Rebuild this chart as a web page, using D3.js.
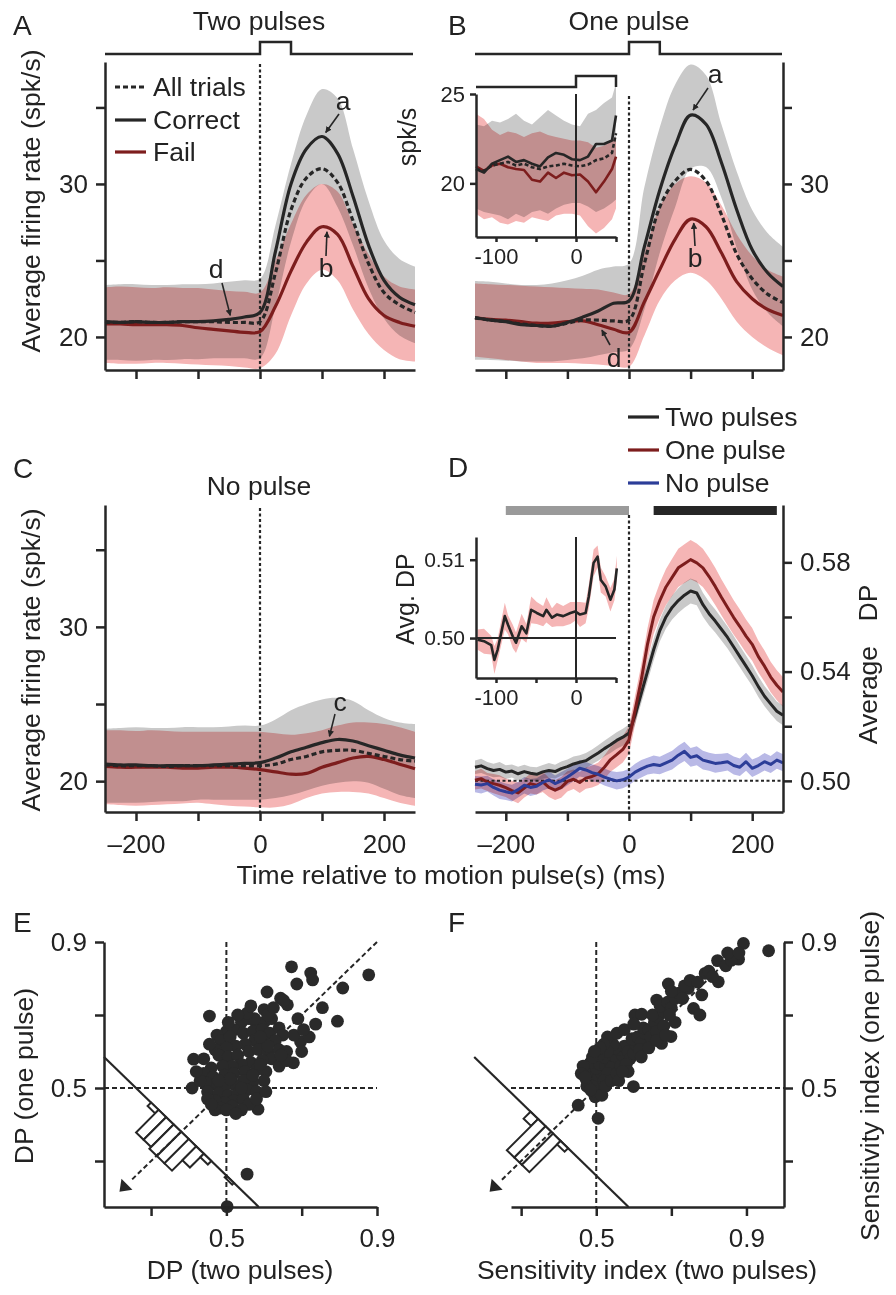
<!DOCTYPE html>
<html>
<head>
<meta charset="utf-8">
<script src="https://cdn.jsdelivr.net/npm/d3@7"></script>
<style>
body { margin: 0; background: #fff; }
text { font-family: "Liberation Sans", Arial, sans-serif; fill: #222; }
</style>
</head>
<body>
<svg id="svg" width="896" height="1295"></svg>
<script>
'use strict';

// ---- time course data (ms, spk/s) ----
var times = [-250,-225,-200,-175,-150,-125,-100,-75,-50,-25,0,25,50,75,100,125,150,175,200,225,250];

var twoCorrect = [21.0,20.95,21.0,20.95,20.95,21.0,21.0,21.05,21.15,21.3,21.6,25.6,30.0,32.3,33.1,32.0,29.2,26.0,23.7,22.6,22.1];
var twoAll     = [20.95,20.95,21.0,20.95,20.95,21.0,21.0,21.0,20.95,20.95,21.0,24.2,28.3,30.4,31.0,30.1,27.6,24.8,22.9,22.1,21.6];
var twoFail    = [20.85,20.85,20.8,20.8,20.8,20.75,20.6,20.5,20.4,20.3,20.35,22.0,24.3,26.2,27.2,26.7,24.6,22.5,21.4,20.95,20.7];
var twoGrayHi  = [23.4,23.45,23.45,23.4,23.4,23.45,23.45,23.5,23.6,23.7,23.8,27.3,31.3,34.5,36.2,35.6,32.3,28.9,26.3,25.1,24.6];
var twoGrayLo  = [18.5,18.5,18.45,18.5,18.5,18.55,18.55,18.6,18.6,18.6,18.6,22.0,26.2,29.0,30.0,28.5,26.0,23.2,21.2,20.1,19.6];
var twoPinkHi  = [23.25,23.3,23.25,23.2,23.25,23.2,23.2,23.1,23.0,22.95,22.9,25.0,27.4,29.3,30.0,29.5,27.4,25.4,23.95,23.3,23.1];
var twoPinkLo  = [18.3,18.25,18.25,18.3,18.3,18.25,18.2,18.15,18.1,18.0,17.95,18.9,21.4,23.5,24.4,23.7,21.8,20.2,19.15,18.55,18.4];

var oneCorrect = [21.27,21.1,21.0,20.8,20.75,20.7,20.95,21.3,21.7,22.2,22.35,25.9,29.6,32.5,34.5,33.9,31.4,28.3,25.7,24.2,23.3];
var oneAll     = [21.25,21.1,21.0,20.85,20.75,20.7,20.9,21.1,21.1,21.05,21.1,24.8,28.5,30.2,30.95,30.2,28.0,25.4,23.8,22.8,22.25];
var oneFail    = [21.25,21.15,21.1,21.0,20.9,20.9,21.0,21.05,20.8,20.5,20.3,22.3,24.4,26.4,27.7,27.2,25.5,23.6,22.5,21.8,21.4];
var oneGrayHi  = [23.65,23.6,23.5,23.4,23.4,23.5,23.7,24.0,24.4,24.6,24.8,29.8,33.7,36.5,37.8,37.1,33.9,30.8,28.3,26.8,25.9];
var oneGrayLo  = [18.5,18.5,18.45,18.4,18.4,18.4,18.5,18.6,18.8,19.0,19.2,21.8,25.5,28.5,31.0,31.1,29.1,25.8,23.1,21.6,20.7];
var onePinkHi  = [23.5,23.45,23.4,23.35,23.3,23.25,23.2,23.15,23.1,22.9,22.8,25.5,28.5,30.0,30.5,30.1,28.6,26.7,25.3,24.4,23.95];
var onePinkLo  = [18.7,18.6,18.5,18.4,18.3,18.3,18.3,18.25,18.2,18.1,18.05,20.1,22.4,23.7,24.2,23.7,22.5,21.0,20.0,19.3,18.8];

var noCorrect = [21.1,21.05,21.05,21.0,21.0,21.0,21.0,21.05,21.1,21.15,21.2,21.5,21.9,22.2,22.5,22.7,22.6,22.3,22.0,21.7,21.5];
var noAll     = [21.05,21.0,21.0,21.0,20.95,21.0,21.0,21.0,21.0,21.0,21.0,21.1,21.4,21.6,21.9,22.0,22.0,21.8,21.6,21.4,21.3];
var noFail    = [20.95,20.9,20.9,20.9,20.9,20.85,20.85,20.9,20.9,20.85,20.75,20.6,20.45,20.5,20.9,21.2,21.5,21.6,21.4,21.1,20.8];
var noGrayHi  = [23.4,23.45,23.5,23.45,23.45,23.5,23.5,23.5,23.55,23.6,23.6,24.0,24.6,25.0,25.3,25.4,25.2,24.6,24.1,23.8,23.7];
var noGrayLo  = [18.6,18.6,18.6,18.65,18.7,18.7,18.8,18.8,18.8,18.8,18.8,18.9,19.1,19.4,19.7,19.9,20.0,19.9,19.5,19.1,18.9];
var noPinkHi  = [23.3,23.3,23.25,23.3,23.25,23.2,23.2,23.2,23.2,23.2,23.2,23.1,23.0,23.1,23.3,23.6,23.8,23.8,23.7,23.5,23.2];
var noPinkLo  = [18.5,18.45,18.4,18.45,18.5,18.55,18.6,18.5,18.4,18.35,18.3,18.3,18.5,18.9,19.2,19.3,19.3,19.2,18.9,18.6,18.4];

// inset of B
var insetT       = [-125,-115,-105,-95,-85,-75,-65,-55,-45,-35,-25,-15,-5,5,15,25,35,45,50];
var insetCorrect = [20.8,20.6,21.1,21.3,21.5,21.2,21.3,21.1,20.95,21.45,21.7,21.6,21.35,21.3,21.5,22.2,22.2,22.4,23.8];
var insetAll     = [20.8,20.7,21.0,21.1,21.2,21.0,21.1,20.9,20.8,20.95,21.0,21.1,21.0,20.95,21.05,21.3,21.4,21.7,22.8];
var insetFail    = [20.95,20.7,21.0,21.1,20.9,20.8,20.75,20.2,20.1,20.6,20.3,20.6,20.45,20.5,20.1,19.5,20.1,20.8,21.5];
var insetGrayHi  = [23.3,23.2,23.5,23.4,23.6,23.9,23.5,23.3,23.7,24.1,23.8,23.5,23.3,23.2,23.9,24.1,24.5,24.8,25.6];
var insetGrayLo  = [18.6,18.4,18.3,18.2,18.0,18.3,18.1,18.4,18.5,18.3,18.6,18.8,18.9,18.9,18.7,18.4,18.6,18.9,19.1];
var insetPinkHi  = [23.9,23.6,23.0,22.7,22.9,22.8,22.6,22.8,22.9,22.7,22.6,22.5,22.4,22.4,22.3,22.0,22.1,22.4,22.6];
var insetPinkLo  = [18.3,18.0,18.1,17.8,17.7,17.9,17.8,18.1,18.0,17.9,18.2,18.3,18.3,18.2,17.6,17.2,17.5,18.0,18.6];

// ---- D: average DP ----
var dT = [-250,-240,-230,-220,-210,-200,-190,-180,-170,-160,-150,-140,-130,-120,-110,-100,-90,-80,-70,-60,-50,-40,-30,-20,-10,0,
          10,20,30,40,50,60,70,80,90,100,110,120,130,140,150,160,170,180,190,200,210,220,230,240,250];
var dpTwo = [.5050,.5055,.5045,.5038,.5042,.5032,.5036,.5026,.5034,.5028,.5024,.5033,.5038,.5034,.5045,.5052,.5062,.5068,.5074,.5088,.5102,.5118,.5132,.5148,.5160,.5175,
             .5240,.5320,.5400,.5480,.5550,.5600,.5635,.5660,.5680,.5695,.5688,.5645,.5612,.5585,.5555,.5525,.5490,.5455,.5420,.5385,.5345,.5310,.5282,.5255,.5240];
var dpOne = [.5002,.5008,.4996,.4990,.4984,.4975,.4964,.4956,.4974,.4990,.4984,.4996,.4976,.4966,.4976,.4998,.5006,.4994,.5010,.5016,.5026,.5050,.5078,.5096,.5115,.5150,
             .5260,.5370,.5500,.5600,.5660,.5710,.5745,.5780,.5795,.5810,.5798,.5780,.5748,.5712,.5672,.5635,.5598,.5565,.5530,.5500,.5455,.5420,.5380,.5350,.5325];
var dpNo  = [.4988,.4985,.4990,.4976,.4966,.4960,.4955,.4968,.4984,.4976,.4980,.4994,.5004,.4990,.5000,.5014,.5030,.5046,.5040,.5030,.5024,.5014,.5006,.5000,.5004,.5014,
             .5032,.5044,.5054,.5060,.5056,.5066,.5076,.5094,.5108,.5086,.5092,.5076,.5070,.5064,.5066,.5070,.5056,.5050,.5070,.5046,.5056,.5070,.5060,.5076,.5066];
var seTwo = [.0025,.0026,.0024,.0025,.0027,.0025,.0024,.0026,.0025,.0024,.0026,.0025,.0027,.0025,.0026,.0026,.0027,.0026,.0028,.0027,.0028,.0029,.0030,.0030,.0031,.0031,
             .0033,.0035,.0037,.0039,.0040,.0042,.0044,.0045,.0046,.0046,.0045,.0044,.0043,.0042,.0041,.0040,.0040,.0039,.0039,.0038,.0038,.0037,.0037,.0036,.0036];
var seOne = [.0034,.0036,.0033,.0035,.0037,.0034,.0036,.0038,.0035,.0036,.0034,.0037,.0035,.0036,.0038,.0037,.0036,.0038,.0039,.0040,.0041,.0043,.0045,.0046,.0048,.0050,
             .0053,.0056,.0059,.0062,.0064,.0066,.0068,.0070,.0071,.0072,.0071,.0070,.0069,.0068,.0066,.0065,.0063,.0062,.0061,.0060,.0058,.0057,.0056,.0055,.0054];
var seNo  = [.0030,.0031,.0029,.0030,.0032,.0030,.0031,.0029,.0030,.0031,.0030,.0029,.0031,.0030,.0032,.0030,.0031,.0030,.0029,.0031,.0030,.0031,.0030,.0032,.0031,.0030,
             .0031,.0032,.0031,.0033,.0032,.0033,.0034,.0035,.0035,.0034,.0035,.0034,.0033,.0034,.0033,.0032,.0033,.0032,.0033,.0032,.0031,.0032,.0031,.0032,.0031];

// inset of D
var dInsetT  = [-123,-115,-106,-102,-98,-89,-85,-79,-75,-68,-62,-56,-49,-41,-37,-30,-24,-16,-7,-1,5,12,16,22,27,31,37,43,48,51];
var dInset   = [.4998,.4996,.4991,.4972,.4985,.5028,.5017,.5002,.4994,.5015,.5006,.5036,.5032,.5028,.5036,.5026,.5030,.5028,.5032,.5034,.5030,.5032,.5053,.5096,.5104,.5074,.5066,.5049,.5062,.5089];
var dInsetSE = [.0013,.0016,.0012,.0018,.0014,.0017,.0012,.0015,.0013,.0016,.0012,.0017,.0014,.0013,.0016,.0012,.0015,.0013,.0014,.0012,.0016,.0013,.0015,.0017,.0014,.0016,.0013,.0015,.0014,.0016];

// ---- E, F scatter ----
var ePoints = [[0.673,0.832],[0.724,0.815],[0.729,0.796],[0.878,0.810],[0.687,0.785],[0.809,0.774],[0.608,0.763],[0.644,0.746],[0.662,0.728],[0.652,0.740],
  [0.455,0.697],[0.737,0.675],[0.795,0.683],[0.413,0.579],[0.409,0.500],[0.555,0.264],[0.502,0.175],[0.584,0.442],[0.678,0.569],[0.697,0.627],[0.679,0.645],
  [0.540,0.680],[0.560,0.690],[0.580,0.675],[0.600,0.680],[0.620,0.690],[0.500,0.655],[0.520,0.660],[0.475,0.645],[0.485,0.630],[0.510,0.640],[0.545,0.650],
  [0.570,0.655],[0.595,0.660],[0.615,0.650],[0.640,0.665],[0.650,0.645],[0.630,0.630],[0.600,0.625],[0.575,0.630],[0.550,0.620],[0.525,0.615],[0.500,0.610],
  [0.470,0.605],[0.480,0.590],[0.505,0.585],[0.530,0.590],[0.560,0.600],[0.585,0.605],[0.610,0.600],[0.640,0.605],[0.660,0.600],[0.620,0.580],[0.595,0.575],
  [0.565,0.570],[0.540,0.565],[0.515,0.560],[0.490,0.560],[0.460,0.555],[0.440,0.540],[0.465,0.530],[0.495,0.535],[0.520,0.540],[0.550,0.545],[0.580,0.550],
  [0.605,0.545],[0.640,0.560],[0.600,0.520],[0.570,0.515],[0.545,0.520],[0.520,0.510],[0.495,0.505],[0.470,0.510],[0.445,0.515],[0.430,0.520],[0.450,0.490],
  [0.480,0.485],[0.505,0.480],[0.530,0.485],[0.555,0.495],[0.580,0.490],[0.520,0.465],[0.495,0.460],[0.470,0.465],[0.450,0.470],[0.545,0.470],[0.560,0.455],
  [0.515,0.450],[0.485,0.445],[0.470,0.440],[0.500,0.440],[0.540,0.440],[0.525,0.430],[0.460,0.455],[0.540,0.500],[0.510,0.525],[0.480,0.520],[0.570,0.535],
  [0.590,0.565],[0.610,0.615],[0.575,0.690],[0.555,0.705],[0.600,0.715],[0.610,0.700],[0.590,0.640],[0.530,0.700],[0.505,0.680],[0.455,0.620],[0.660,0.575],
  [0.645,0.590],[0.700,0.600],[0.720,0.640],[0.705,0.660],[0.690,0.690],[0.755,0.720],[0.565,0.725],[0.625,0.720],[0.580,0.470],[0.605,0.490],[0.440,0.580],[0.420,0.545]];

var fPoints = [[0.892,0.896],[0.959,0.876],[0.879,0.853],[0.823,0.849],[0.790,0.814],[0.825,0.791],[0.692,0.785],[0.745,0.773],[0.781,0.755],[0.661,0.741],
  [0.759,0.718],[0.776,0.700],[0.603,0.700],[0.621,0.702],[0.699,0.641],[0.674,0.622],[0.536,0.633],[0.479,0.563],[0.599,0.504],[0.452,0.453],[0.505,0.417],
  [0.497,0.476],[0.470,0.550],[0.480,0.540],[0.490,0.530],[0.475,0.520],[0.495,0.515],[0.505,0.525],[0.515,0.540],[0.500,0.555],[0.485,0.570],[0.510,0.565],
  [0.525,0.560],[0.535,0.575],[0.520,0.585],[0.545,0.590],[0.555,0.580],[0.540,0.555],[0.530,0.540],[0.520,0.520],[0.510,0.500],[0.500,0.490],[0.490,0.505],
  [0.515,0.480],[0.525,0.505],[0.540,0.520],[0.555,0.540],[0.565,0.560],[0.570,0.590],[0.560,0.605],[0.575,0.615],[0.585,0.600],[0.590,0.580],[0.580,0.565],
  [0.600,0.595],[0.605,0.620],[0.595,0.635],[0.610,0.640],[0.620,0.625],[0.615,0.605],[0.630,0.650],[0.625,0.665],[0.640,0.660],[0.645,0.640],[0.550,0.610],
  [0.545,0.620],[0.530,0.600],[0.505,0.590],[0.490,0.585],[0.465,0.560],[0.460,0.540],[0.475,0.505],[0.485,0.495],[0.655,0.680],[0.665,0.695],[0.650,0.700],
  [0.680,0.710],[0.670,0.725],[0.690,0.735],[0.700,0.720],[0.710,0.745],[0.720,0.760],[0.700,0.765],[0.735,0.780],[0.730,0.745],[0.660,0.655],[0.680,0.670],
  [0.585,0.545],[0.560,0.520],[0.570,0.545],[0.620,0.585],[0.640,0.610],[0.660,0.630],[0.685,0.645],[0.710,0.680],[0.695,0.700],[0.750,0.795],[0.770,0.790],
  [0.800,0.820],[0.810,0.805],[0.845,0.835],[0.860,0.850],[0.850,0.870],[0.880,0.870],[0.530,0.640],[0.555,0.650],[0.575,0.660],[0.600,0.675],[0.520,0.620],
  [0.510,0.610],[0.495,0.600],[0.470,0.530]];

// histograms of (one pulse - two pulses), drawn along x + y = diagSum
var diagSum = 0.76;
var histBinWidth = 0.04;
var eHistCenters = [0.14,0.10,0.06,0.02,-0.02,-0.06,-0.10,-0.14,-0.26];
var eHistCounts  = [2,13,13,14,14,14,8,2,1];
var fHistCenters = [0.09,0.05,0.01,-0.03,-0.07];
var fHistCounts  = [4,18,18,18,2];

var pulseOn = [0, 50];
var dpWindows = [[-200, 0, '#9a9a9a'], [40, 240, '#262626']];

// ---- styles ----
var ink = '#262626', red = '#7d1d1d', blue = '#2c3d98';
var grayFill = '#c9c9c9', pinkFill = '#f5b5b5', blueFill = '#b9b9e6';
var svg = d3.select('#svg');

svg.append('defs').append('marker')
  .attr('id', 'arr').attr('viewBox', '0 0 10 10').attr('refX', 9).attr('refY', 5)
  .attr('markerWidth', 4).attr('markerHeight', 4).attr('orient', 'auto')
  .append('path').attr('d', 'M0,0 L10,5 L0,10 z').attr('fill', ink);

function text(x, y, s, size, anchor, rot) {
  var t = svg.append('text').attr('x', x).attr('y', y).text(s)
    .attr('font-size', size + 'px').attr('text-anchor', anchor || 'start');
  if (rot) t.attr('transform', 'rotate(' + rot + ',' + x + ',' + y + ')');
  return t;
}
function styleAxis(g, size) {
  g.select('.domain').attr('stroke', ink).attr('stroke-width', 2.5);
  g.selectAll('.tick line').attr('stroke', ink).attr('stroke-width', 2.5);
  g.selectAll('.tick text').attr('font-size', size + 'px').attr('font-family', null).attr('fill', '#222');
}
function band(x, y, t, lo, hi, fill, curve) {
  svg.append('path').datum(t)
    .attr('d', d3.area().x(function(d) { return x(d); })
      .y0(function(d, i) { return y(lo[i]); }).y1(function(d, i) { return y(hi[i]); }).curve(curve))
    .attr('fill', fill).style('mix-blend-mode', 'multiply');
}
function trace(x, y, t, v, color, dash, curve, w) {
  svg.append('path').datum(v)
    .attr('d', d3.line().x(function(d, i) { return x(t[i]); }).y(function(d) { return y(d); }).curve(curve))
    .attr('fill', 'none').attr('stroke', color).attr('stroke-width', w || 3)
    .attr('stroke-dasharray', dash || null).attr('stroke-linejoin', 'round');
}
function vline(x, y1, y2, dash, w) {
  return svg.append('line').attr('x1', x).attr('x2', x).attr('y1', y1).attr('y2', y2)
    .attr('stroke', ink).attr('stroke-width', w || 2).attr('stroke-dasharray', dash || null);
}
function hline(y, x1, x2, dash, w) {
  return svg.append('line').attr('y1', y).attr('y2', y).attr('x1', x1).attr('x2', x2)
    .attr('stroke', ink).attr('stroke-width', w || 2).attr('stroke-dasharray', dash || null);
}
function arrow(x1, y1, x2, y2) {
  svg.append('line').attr('x1', x1).attr('y1', y1).attr('x2', x2).attr('y2', y2)
    .attr('stroke', ink).attr('stroke-width', 1.6).attr('marker-end', 'url(#arr)');
}
function stimulus(x, base, top, x0, x1) {
  svg.append('path')
    .attr('d', 'M' + x0 + ',' + base + 'H' + x(pulseOn[0]) + 'V' + top + 'H' + x(pulseOn[1]) + 'V' + base + 'H' + x1)
    .attr('fill', 'none').attr('stroke', ink).attr('stroke-width', 2.5);
}
var smooth = d3.curveCatmullRom.alpha(0.5), lin = d3.curveLinear;

function ratePanel(x, y, d) {
  band(x, y, times, d.gLo, d.gHi, grayFill, smooth);
  band(x, y, times, d.pLo, d.pHi, pinkFill, smooth);
  vline(x(0), d.dashTop, y.range()[0], '3,2.5', 2.2);
  trace(x, y, times, d.fail, red, null, smooth, 3.2);
  trace(x, y, times, d.all, ink, '5,3', smooth, 3.2);
  trace(x, y, times, d.correct, ink, null, smooth, 3.2);
}

// ================= A =================
var xA = d3.scaleLinear().domain([-250, 250]).range([105, 415]);
var yA = d3.scaleLinear().domain([17.84, 37.97]).range([370, 62]);
ratePanel(xA, yA, { gLo: twoGrayLo, gHi: twoGrayHi, pLo: twoPinkLo, pHi: twoPinkHi,
  fail: twoFail, all: twoAll, correct: twoCorrect, dashTop: 64 });
styleAxis(svg.append('g').attr('transform', 'translate(105,0)')
  .call(d3.axisLeft(yA).tickValues([20, 25, 30, 35]).tickFormat(function(d) { return d % 10 ? '' : d; })
    .tickSize(9).tickPadding(8).tickSizeOuter(0)), 26);
styleAxis(svg.append('g').attr('transform', 'translate(0,370)')
  .call(d3.axisBottom(xA).tickValues([-200, -100, 0, 100, 200]).tickFormat('').tickSize(9).tickSizeOuter(0)), 26);
stimulus(xA, 54, 42, 105, 413);
text(259, 30, 'Two pulses', 26.5, 'middle');
text(13, 35, 'A', 28);
text(40, 201, 'Average firing rate (spk/s)', 26.5, 'middle', -90);
// legend
[['All trials', ink, '5,3', 87], ['Correct', ink, null, 120], ['Fail', red, null, 152]].forEach(function(l) {
  hline(l[3], 115, 146, l[2], 3.2).attr('stroke', l[1]);
  text(153, l[3] + 9, l[0], 26.5);
});
text(343, 110, 'a', 26.5, 'middle');
arrow(339, 114, xA(106), yA(33.1) - 4);
text(326, 277, 'b', 26.5, 'middle');
arrow(326, 256, xA(108), yA(27.2) + 5);
text(216, 278, 'd', 26.5, 'middle');
arrow(222, 283, xA(-48), yA(21.15) - 4);

// ================= B =================
var xB = d3.scaleLinear().domain([-250, 250]).range([475, 783]);
ratePanel(xB, yA, { gLo: oneGrayLo, gHi: oneGrayHi, pLo: onePinkLo, pHi: onePinkHi,
  fail: oneFail, all: oneAll, correct: oneCorrect, dashTop: 96 });
styleAxis(svg.append('g').attr('transform', 'translate(783,0)')
  .call(d3.axisRight(yA).tickValues([20, 25, 30, 35]).tickFormat(function(d) { return d % 10 ? '' : d; })
    .tickSize(9).tickPadding(8).tickSizeOuter(0)), 26);
styleAxis(svg.append('g').attr('transform', 'translate(0,370)')
  .call(d3.axisBottom(xB).tickValues([-200, -100, 0, 100, 200]).tickFormat('').tickSize(9).tickSizeOuter(0)), 26);
stimulus(xB, 54, 42, 475, 782);
text(629, 30, 'One pulse', 26.5, 'middle');
text(448, 35, 'B', 28);
text(715, 83, 'a', 26.5, 'middle');
arrow(708, 88, xB(104), yA(34.5) - 5);
text(695, 267, 'b', 26.5, 'middle');
arrow(695, 246, xB(105), yA(27.7) + 4);
text(614, 367, 'd', 26.5, 'middle');
arrow(610, 345, xB(-44), yA(20.65) + 3);

// inset of B
var xI = d3.scaleLinear().domain([-125, 50]).range([476, 616]);
var yI = d3.scaleLinear().domain([17, 25]).range([237, 94]);
band(xI, yI, insetT, insetGrayLo, insetGrayHi, grayFill, lin);
band(xI, yI, insetT, insetPinkLo, insetPinkHi, pinkFill, lin);
trace(xI, yI, insetT, insetFail, red, null, lin, 2.6);
trace(xI, yI, insetT, insetAll, ink, '4,2.5', lin, 2.6);
trace(xI, yI, insetT, insetCorrect, ink, null, lin, 2.6);
vline(xI(0), 94, 237, null, 2);
styleAxis(svg.append('g').attr('transform', 'translate(476,0)')
  .call(d3.axisLeft(yI).tickValues([20, 25]).tickSize(6).tickPadding(5).tickSizeOuter(0)), 22);
styleAxis(svg.append('g').attr('transform', 'translate(0,237)')
  .call(d3.axisBottom(xI).tickValues([-100, -50, 0, 50])
    .tickFormat(function(d) { return d === -100 ? '-100' : d === 0 ? '0' : ''; })
    .tickSize(5).tickPadding(6).tickSizeOuter(0)), 22);
stimulus(xI, 87, 76, 476, xI(50));
text(416, 137, 'spk/s', 25, 'middle', -90);

// ================= C =================
var yC = d3.scaleLinear().domain([18.0, 37.9]).range([812, 505]);
ratePanel(xA, yC, { gLo: noGrayLo, gHi: noGrayHi, pLo: noPinkLo, pHi: noPinkHi,
  fail: noFail, all: noAll, correct: noCorrect, dashTop: 508 });
styleAxis(svg.append('g').attr('transform', 'translate(105,0)')
  .call(d3.axisLeft(yC).tickValues([20, 25, 30, 35]).tickFormat(function(d) { return d % 10 ? '' : d; })
    .tickSize(9).tickPadding(8).tickSizeOuter(0)), 26);
function msFormat(d) { return d === -200 ? '\u2013200' : d % 200 === 0 ? String(d) : ''; }
styleAxis(svg.append('g').attr('transform', 'translate(0,812)')
  .call(d3.axisBottom(xA).tickValues([-200, -100, 0, 100, 200]).tickFormat(msFormat)
    .tickSize(9).tickPadding(14).tickSizeOuter(0)), 26);
text(259, 495, 'No pulse', 26.5, 'middle');
text(13, 478, 'C', 28);
text(40, 660, 'Average firing rate (spk/s)', 26.5, 'middle', -90);
text(340, 711, 'c', 26.5, 'middle');
arrow(335, 714, xA(112), yC(22.65) - 4);
text(451, 884, 'Time relative to motion pulse(s) (ms)', 26.5, 'middle');

// ================= D =================
var yD = d3.scaleLinear().domain([0.4886, 0.601]).range([812, 505]);
function lo(v, se) { return v.map(function(d, i) { return d - se[i]; }); }
function hi(v, se) { return v.map(function(d, i) { return d + se[i]; }); }
band(xB, yD, dT, lo(dpTwo, seTwo), hi(dpTwo, seTwo), grayFill, lin);
band(xB, yD, dT, lo(dpOne, seOne), hi(dpOne, seOne), pinkFill, lin);
band(xB, yD, dT, lo(dpNo, seNo), hi(dpNo, seNo), blueFill, lin);
hline(yD(0.5), 475, 783, '3,2.5', 2);
vline(xB(0), 515, 812, '3,2.5', 2.2);
trace(xB, yD, dT, dpTwo, ink, null, lin, 3);
trace(xB, yD, dT, dpOne, red, null, lin, 3);
trace(xB, yD, dT, dpNo, blue, null, lin, 3);
dpWindows.forEach(function(w) {
  svg.append('rect').attr('x', xB(w[0])).attr('y', 506).attr('width', xB(w[1]) - xB(w[0])).attr('height', 9).attr('fill', w[2]);
});
styleAxis(svg.append('g').attr('transform', 'translate(783,0)')
  .call(d3.axisRight(yD).tickValues([0.50, 0.52, 0.54, 0.56, 0.58])
    .tickFormat(function(d) { return Math.round(d * 100) % 4 === 2 ? d3.format('.2f')(d) : ''; })
    .tickSize(9).tickPadding(8).tickSizeOuter(0)), 26);
styleAxis(svg.append('g').attr('transform', 'translate(0,812)')
  .call(d3.axisBottom(xB).tickValues([-200, -100, 0, 100, 200]).tickFormat(msFormat)
    .tickSize(9).tickPadding(14).tickSizeOuter(0)), 26);
text(448, 477, 'D', 28);
text(877, 603, 'DP', 26.5, 'middle', -90);
text(877, 695, 'Average', 26.5, 'middle', -90);
[['Two pulses', ink, 417], ['One pulse', red, 450], ['No pulse', blue, 483]].forEach(function(l) {
  hline(l[2], 628, 659, null, 3.2).attr('stroke', l[1]);
  text(665, l[2] + 9, l[0], 26.5);
});

// inset of D
var yDI = d3.scaleLinear().domain([0.4949, 0.5129]).range([678, 537]);
band(xI, yDI, dInsetT, lo(dInset, dInsetSE), hi(dInset, dInsetSE), pinkFill, lin);
hline(yDI(0.5), 476, 616, null, 2);
vline(xI(0), 537, 678, null, 2);
trace(xI, yDI, dInsetT, dInset, ink, null, lin, 2.6);
styleAxis(svg.append('g').attr('transform', 'translate(476,0)')
  .call(d3.axisLeft(yDI).tickValues([0.50, 0.51]).tickFormat(d3.format('.2f')).tickSize(6).tickPadding(5).tickSizeOuter(0)), 21);
styleAxis(svg.append('g').attr('transform', 'translate(0,678)')
  .call(d3.axisBottom(xI).tickValues([-100, -50, 0, 50])
    .tickFormat(function(d) { return d === -100 ? '-100' : d === 0 ? '0' : ''; })
    .tickSize(5).tickPadding(6).tickSizeOuter(0)), 22);
text(414, 599, 'Avg. DP', 25, 'middle', -90);

// ================= E, F =================
function scatterPanel(x, y, pts, centers, counts, yAxisRight, letter, letterX, xLabel, xLabelX, yLabel, yLabelX) {
  var ax0 = x.range()[0], ax1 = x.range()[1], yBot = y.range()[0];
  // anti-diagonal and histogram
  var a0 = 0.175, a1 = diagSum - 0.174;
  svg.append('line').attr('x1', x(a0)).attr('y1', y(diagSum - a0)).attr('x2', x(a1)).attr('y2', y(diagSum - a1))
    .attr('stroke', ink).attr('stroke-width', 2.2);
  var k = Math.SQRT1_2, perScale = 2.45;
  centers.forEach(function(c, i) {
    var d1 = c + histBinWidth / 2, d2 = c - histBinWidth / 2;
    var p1 = [x((diagSum - d1) / 2), y((diagSum + d1) / 2)];
    var p2 = [x((diagSum - d2) / 2), y((diagSum + d2) / 2)];
    var L = counts[i] * perScale;
    var pts4 = [p1, p2, [p2[0] - L * k, p2[1] + L * k], [p1[0] - L * k, p1[1] + L * k]];
    svg.append('polygon').attr('points', pts4.map(function(p) { return p.join(','); }).join(' '))
      .attr('fill', '#fff').attr('stroke', ink).attr('stroke-width', 2);
  });
  // reference lines
  vline(x(0.5), y(0.9), yBot, '5,3', 2);
  hline(y(0.5), ax0, ax1, '5,3', 2);
  svg.append('line').attr('x1', x(0.9)).attr('y1', y(0.9)).attr('x2', x(0.245)).attr('y2', y(0.245))
    .attr('stroke', ink).attr('stroke-width', 2).attr('stroke-dasharray', '5,3');
  var tx = x(0.232), ty = y(0.232);
  svg.append('path').attr('d', 'M' + (tx - 6) + ',' + (ty + 6) + 'l2,-13 l11,11 z').attr('fill', ink);
  // points
  svg.append('g').selectAll('circle').data(pts).join('circle')
    .attr('cx', function(d) { return x(d[0]); }).attr('cy', function(d) { return y(d[1]); })
    .attr('r', 6.4).attr('fill', '#2a2a2a');
  // axes
  styleAxis(svg.append('g').attr('transform', 'translate(0,' + yBot + ')')
    .call(d3.axisBottom(x).tickValues([0.3, 0.5, 0.7, 0.9])
      .tickFormat(function(d) { return d === 0.5 || d === 0.9 ? String(d) : ''; })
      .tickSize(9).tickPadding(13).tickSizeOuter(0)), 26);
  var ya = yAxisRight ? d3.axisRight(y) : d3.axisLeft(y);
  styleAxis(svg.append('g').attr('transform', 'translate(' + (yAxisRight ? ax1 : ax0) + ',0)')
    .call(ya.tickValues([0.3, 0.5, 0.7, 0.9])
      .tickFormat(function(d) { return d === 0.5 || d === 0.9 ? String(d) : ''; })
      .tickSize(9).tickPadding(8).tickSizeOuter(0)), 26);
  text(letterX, 932, letter, 28);
  text(xLabelX, 1279, xLabel, 26.5, 'middle');
  text(yLabelX, 1076, yLabel, 26.5, 'middle', -90);
}
var yE = d3.scaleLinear().domain([0.174, 0.9]).range([1207, 942]);
var xE = d3.scaleLinear().domain([0.175, 0.9]).range([104, 377]);
var xF = d3.scaleLinear().domain([0.273, 1.0]).range([511, 784]);
scatterPanel(xE, yE, ePoints, eHistCenters, eHistCounts, false, 'E', 13, 'DP (two pulses)', 240, 'DP (one pulse)', 33);
scatterPanel(xF, yE, fPoints, fHistCenters, fHistCounts, true, 'F', 448, 'Sensitivity index (two pulses)', 647, 'Sensitivity index (one pulse)', 879);
</script>
</body>
</html>
